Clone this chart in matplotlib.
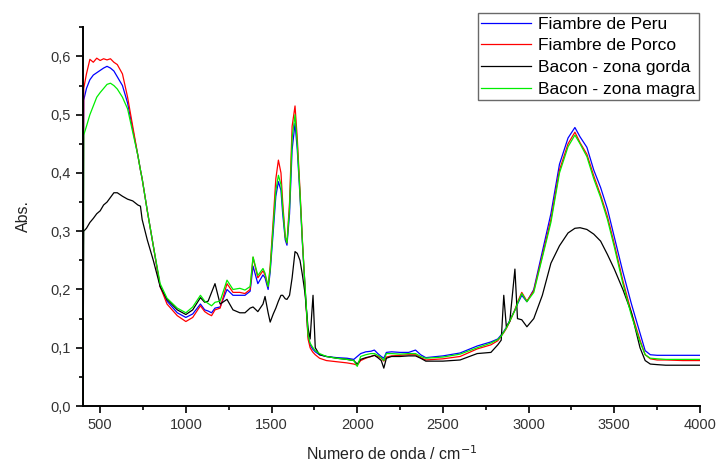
import matplotlib
matplotlib.use("Agg")
import matplotlib.pyplot as plt
from matplotlib.ticker import MultipleLocator, FuncFormatter

plt.rcParams['font.family'] = ['Liberation Sans', 'DejaVu Sans']

# numero de onda (cm-1)
wn = [400, 404, 420, 440, 460, 480, 500, 520, 540, 560, 580, 600, 630, 660, 690,
      720, 735, 745, 775, 810, 850, 890, 950, 1000, 1040, 1085, 1110, 1130, 1150,
      1170, 1200, 1240, 1275, 1315, 1345, 1375, 1392, 1420, 1450, 1462, 1480, 1492,
      1510, 1525, 1540, 1555, 1565, 1580, 1590, 1605, 1620, 1637, 1650, 1666, 1680,
      1695, 1713, 1725, 1735, 1742, 1755, 1780, 1820, 1880, 1940, 1980, 2000, 2020,
      2050, 2080, 2100, 2120, 2140, 2155, 2170, 2200, 2250, 2300, 2340, 2370, 2400,
      2500, 2600, 2700, 2780, 2820, 2840, 2855, 2870, 2890, 2920, 2935, 2960, 2990,
      3030, 3080, 3130, 3180, 3230, 3270, 3300, 3340, 3380, 3420, 3460, 3500, 3550,
      3600, 3650, 3680, 3710, 3750, 3800, 3900, 4000]

peru = [0.02, 0.525, 0.545, 0.56, 0.568, 0.572, 0.576, 0.58, 0.583, 0.58, 0.575, 0.565, 0.55, 0.52, 0.475,
        0.43, 0.405, 0.39, 0.335, 0.275, 0.205, 0.18, 0.16, 0.152, 0.158, 0.175, 0.165, 0.163, 0.16,
        0.168, 0.17, 0.2, 0.19, 0.19, 0.19, 0.197, 0.24, 0.21, 0.225, 0.22, 0.2, 0.23,
        0.3, 0.36, 0.385, 0.37, 0.33, 0.285, 0.276, 0.33, 0.44, 0.485, 0.44, 0.36, 0.28,
        0.205, 0.12, 0.105, 0.1, 0.097, 0.093, 0.088, 0.085, 0.083, 0.082, 0.08, 0.085, 0.09,
        0.093, 0.094, 0.096, 0.09, 0.085, 0.082, 0.092, 0.093, 0.092, 0.092, 0.096, 0.088, 0.083,
        0.086, 0.091, 0.103, 0.11, 0.115, 0.122, 0.128, 0.135, 0.147, 0.165, 0.175, 0.19, 0.179,
        0.2, 0.265, 0.33, 0.415, 0.46, 0.478, 0.462, 0.444, 0.405, 0.375, 0.338, 0.29, 0.23,
        0.175, 0.125, 0.095, 0.088, 0.087, 0.087, 0.087, 0.087]

porco = [0.0, 0.545, 0.57, 0.595, 0.59, 0.597, 0.593, 0.596, 0.594, 0.596, 0.59, 0.586, 0.57, 0.53, 0.48,
         0.43, 0.405, 0.39, 0.335, 0.275, 0.205, 0.175, 0.155, 0.145, 0.152, 0.172, 0.162, 0.158, 0.155,
         0.165, 0.168, 0.21, 0.195, 0.195, 0.193, 0.2, 0.255, 0.22, 0.232, 0.225, 0.205, 0.24,
         0.32, 0.39, 0.422, 0.4, 0.35, 0.29, 0.28, 0.35, 0.48, 0.515, 0.46, 0.37, 0.285,
         0.205, 0.115, 0.1, 0.095, 0.092, 0.088, 0.082, 0.078, 0.076, 0.074, 0.072, 0.07, 0.078,
         0.082, 0.085, 0.087, 0.085, 0.082, 0.077, 0.084, 0.086, 0.087, 0.088, 0.088, 0.083, 0.079,
         0.081, 0.085, 0.098, 0.105, 0.112, 0.12, 0.126, 0.133, 0.145, 0.165, 0.178, 0.195, 0.18,
         0.198, 0.258, 0.32, 0.405, 0.45, 0.47, 0.452, 0.432, 0.395, 0.362, 0.325, 0.278, 0.215,
         0.16, 0.113, 0.088, 0.081, 0.079, 0.079, 0.078, 0.078]

gorda = [0.03, 0.30, 0.305, 0.315, 0.322, 0.33, 0.335, 0.345, 0.35, 0.358, 0.366, 0.366, 0.36, 0.355, 0.352,
         0.345, 0.343, 0.32, 0.285, 0.25, 0.205, 0.183, 0.165, 0.157, 0.165, 0.186, 0.178, 0.18, 0.195,
         0.21, 0.175, 0.183, 0.165, 0.16, 0.16, 0.168, 0.17, 0.162, 0.175, 0.188, 0.16, 0.144,
         0.158, 0.168, 0.18, 0.19, 0.19, 0.184, 0.183, 0.19, 0.22, 0.265, 0.262, 0.25, 0.225,
         0.194, 0.134, 0.115, 0.16, 0.19, 0.1, 0.088, 0.085, 0.082, 0.08, 0.078, 0.072, 0.08,
         0.083, 0.085, 0.087, 0.083, 0.078, 0.065, 0.082, 0.085, 0.085, 0.086, 0.086, 0.082, 0.077,
         0.077, 0.079, 0.09, 0.092, 0.105, 0.113, 0.19, 0.136, 0.145, 0.235, 0.15, 0.148, 0.136,
         0.15, 0.19, 0.245, 0.275, 0.297, 0.305, 0.306, 0.303, 0.295, 0.283, 0.26, 0.235, 0.2,
         0.16, 0.1, 0.078, 0.072, 0.071, 0.07, 0.07, 0.07]

magra = [0.0, 0.465, 0.48, 0.50, 0.515, 0.53, 0.538, 0.545, 0.552, 0.554, 0.55, 0.544, 0.53, 0.51, 0.47,
         0.43, 0.405, 0.39, 0.335, 0.275, 0.21, 0.185, 0.168, 0.16, 0.17, 0.19, 0.18, 0.176, 0.172,
         0.178, 0.18, 0.216, 0.2, 0.202, 0.199, 0.205, 0.256, 0.224, 0.236, 0.228, 0.205, 0.235,
         0.31, 0.37, 0.396, 0.38, 0.34, 0.29, 0.28, 0.34, 0.46, 0.5, 0.45, 0.365, 0.282,
         0.208, 0.122, 0.108, 0.103, 0.1, 0.095, 0.09, 0.085, 0.082, 0.08, 0.078, 0.068, 0.085,
         0.088, 0.09, 0.09, 0.087, 0.083, 0.078, 0.09, 0.09, 0.089, 0.09, 0.09, 0.085, 0.082,
         0.084, 0.089, 0.1, 0.108, 0.114, 0.12, 0.127, 0.134, 0.146, 0.164, 0.176, 0.193, 0.179,
         0.195, 0.255, 0.315, 0.4, 0.445, 0.465, 0.45, 0.428, 0.39, 0.358, 0.32, 0.273, 0.21,
         0.155, 0.11, 0.088, 0.082, 0.081, 0.08, 0.08, 0.08]

series = [("Fiambre de Peru", peru, "#0000ff"),
          ("Fiambre de Porco", porco, "#ff0000"),
          ("Bacon - zona gorda", gorda, "#000000"),
          ("Bacon - zona magra", magra, "#00ee00")]

fig = plt.figure(figsize=(7.17, 4.63), dpi=100)
ax = fig.add_axes([0.1158, 0.1231, 0.8605, 0.8186])

for name, vals, col in series:
    ax.plot(wn, vals, color=col, lw=0.9, label=name)

ax.set_xlim(400, 4000)
ax.set_ylim(0, 0.6505)
ax.xaxis.set_major_locator(MultipleLocator(500))
ax.xaxis.set_minor_locator(MultipleLocator(250))
ax.yaxis.set_major_locator(MultipleLocator(0.1))
ax.yaxis.set_minor_locator(MultipleLocator(0.05))
ax.yaxis.set_major_formatter(FuncFormatter(lambda v, p: f"{v:.1f}".replace(".", ",")))

for s in ["top", "right"]:
    ax.spines[s].set_visible(False)
for s in ["left", "bottom"]:
    ax.spines[s].set_linewidth(1.4)
ax.tick_params(which="major", direction="out", length=5, width=1.2, labelsize=10.5,
               colors="#000000", labelcolor="#333333")
ax.tick_params(which="minor", direction="out", length=3, width=1.2)

ax.set_xlabel("Numero de onda / cm$^{-1}$", fontsize=11.5, color="#222222", labelpad=9)
ax.set_ylabel("Abs.", fontsize=11.5, color="#222222", labelpad=14)

leg = ax.legend(loc="upper right", bbox_to_anchor=(0.975, 0.972), bbox_transform=fig.transFigure,
                fontsize=12.5, fancybox=False, frameon=True, borderpad=0.2,
                labelspacing=0.38, handlelength=2.9, handletextpad=0.4, borderaxespad=0)
leg.get_frame().set_edgecolor("#444444")
leg.get_frame().set_linewidth(1.0)
for line in leg.get_lines():
    line.set_linewidth(0.9)

fig.savefig("out.png", dpi=100)
